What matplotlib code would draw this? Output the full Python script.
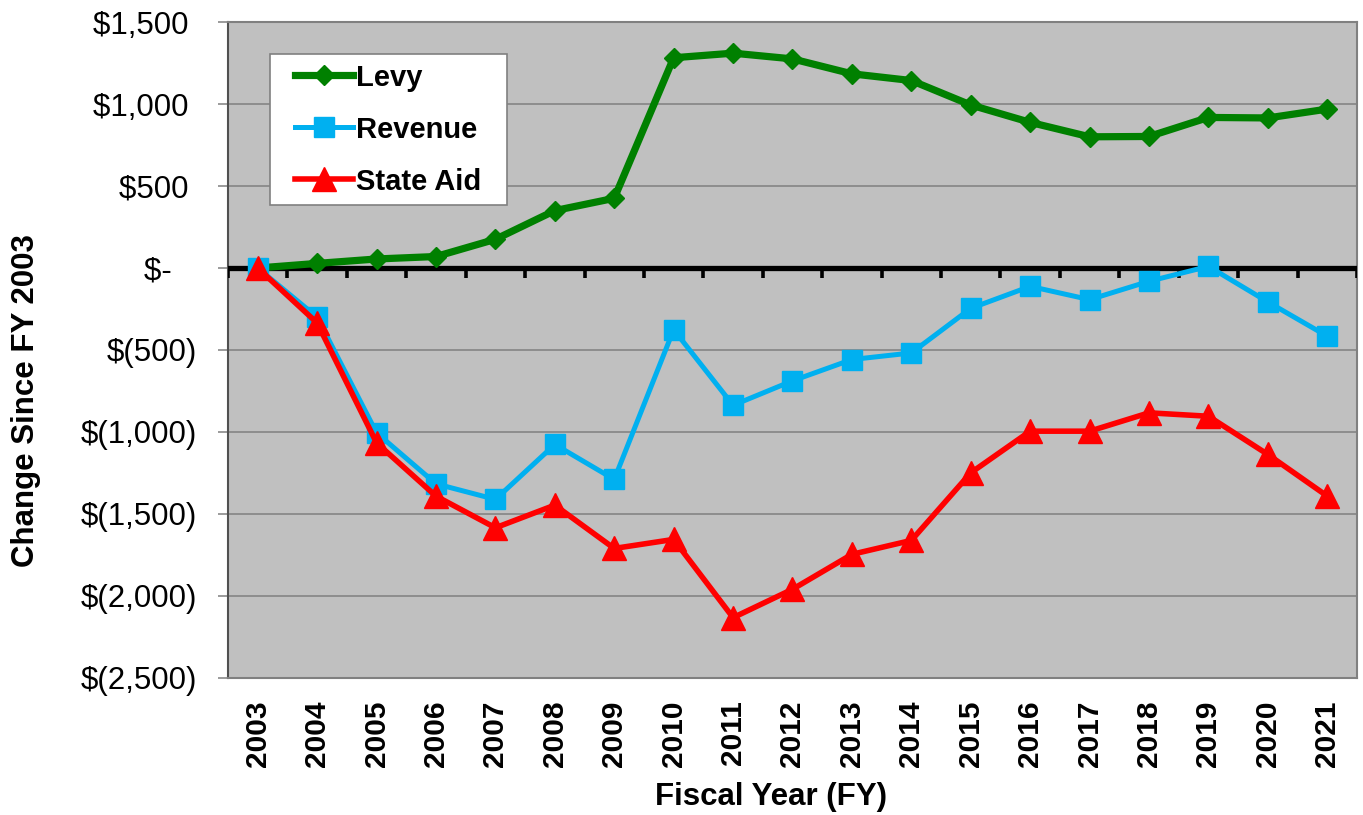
import numpy as np
import matplotlib
matplotlib.use("Agg")
import matplotlib.pyplot as plt
from matplotlib.patches import Rectangle
from matplotlib.ticker import FuncFormatter, MultipleLocator

plt.rcParams['font.family'] = ['Liberation Sans', 'DejaVu Sans']

# 데이터 (그림에서 읽은 값, FY 2003 대비 변화)
years = ['2003', '2004', '2005', '2006', '2007', '2008', '2009', '2010', '2011', '2012',
         '2013', '2014', '2015', '2016', '2017', '2018', '2019', '2020', '2021']
levy = [0, 28, 55, 70, 175, 350, 425, 1282, 1310, 1275,
        1184, 1143, 994, 888, 800, 802, 918, 915, 969]
revenue = [0, -300, -1005, -1316, -1411, -1076, -1289, -376, -837, -688,
           -558, -518, -246, -112, -193, -81, 10, -207, -416]
state_aid = [0, -335, -1066, -1391, -1584, -1446, -1710, -1655, -2132, -1959,
             -1746, -1661, -1249, -995, -995, -883, -904, -1137, -1391]

y_min, y_max = -2500, 1500


def money(v, pos=None):
    # 엑셀 회계 서식 흉내
    if v == 0:
        return '$-   '
    if v < 0:
        return f'$({-v:,.0f})'
    return f'${v:,.0f} '


fig = plt.figure(figsize=(13.63, 8.15), dpi=100)
ax = fig.add_axes([228 / 1363, 1 - 678 / 815, 1129 / 1363, 656 / 815])
ax.set_facecolor('#C0C0C0')

x = np.arange(len(years))

ax.plot(x, levy, color='#008000', lw=5.2, marker='D', ms=10.5, label='Levy', zorder=4)
ax.plot(x, revenue, color='#00B0F0', lw=3.6, marker='s', ms=14, label='Revenue', zorder=5)
ax.plot(x, state_aid, color='#FF0000', lw=4.0, marker='^', ms=17, label='State Aid', zorder=6)

# 0 기준선과 눈금 (카테고리 경계)
ax.axhline(0, color='black', lw=3.8, zorder=3)
bounds = np.arange(len(years) + 1) - 0.5
ax.vlines(bounds, -60, 0, color='black', lw=2.6, zorder=3)

ax.set_xlim(-0.5, len(years) - 0.5)
ax.set_ylim(y_min, y_max)
ax.yaxis.set_major_locator(MultipleLocator(500))
ax.yaxis.set_major_formatter(FuncFormatter(money))
ax.grid(axis='y', color='#808080', lw=1.1, zorder=1)
ax.set_axisbelow(True)

ax.set_xticks(x)
ax.set_xticklabels(years, rotation=90, fontsize=21.5, fontweight='bold')
ax.tick_params(axis='x', length=0, pad=16)
ax.tick_params(axis='y', length=7, width=1.1, color='#808080', pad=15, labelsize=22.5)

for side in ['top', 'right', 'bottom']:
    ax.spines[side].set_color('#808080')
    ax.spines[side].set_linewidth(1.5)
ax.spines['left'].set_color('#505050')
ax.spines['left'].set_linewidth(1.5)

# 범례 상자
ax.add_patch(Rectangle((0.0372, 0.721), 0.210, 0.230, transform=ax.transAxes,
                       facecolor='white', edgecolor='#808080', lw=1.2, zorder=7))
ax.legend(loc='center left', bbox_to_anchor=(0.046, 0.836), frameon=False,
          prop={'size': 21, 'weight': 'bold'}, handlelength=2.0,
          handletextpad=0.12, labelspacing=0.82, borderpad=0).set_zorder(8)

fig.text(26 / 1363, 0.508, 'Change Since FY 2003', rotation=90, ha='center', va='center',
         fontsize=22.5, fontweight='bold')
fig.text(0.566, 0.022, 'Fiscal Year (FY)', ha='center', va='center',
         fontsize=22.5, fontweight='bold')

fig.savefig('out.png', dpi=100)
